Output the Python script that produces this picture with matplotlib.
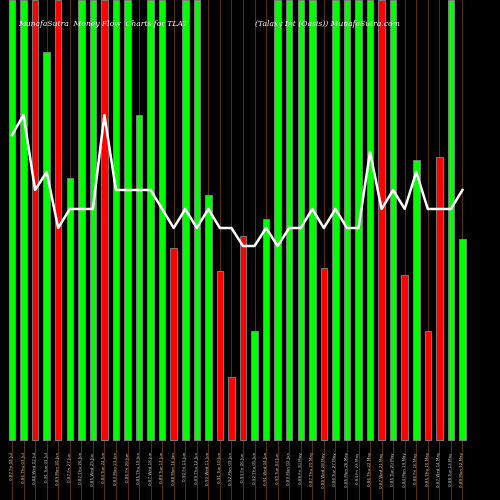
import matplotlib
matplotlib.use("Agg")
import matplotlib.pyplot as plt
import numpy as np

# bar heights (pixel-like units, 440 = top of chart), colours, and white line values
heights = [440, 440, 440, 388, 440, 262, 440, 440, 440, 440, 440, 325, 440, 440, 192, 440, 440, 245,
           169, 63, 204, 109, 221, 440, 440, 440, 440, 172, 440, 440, 440, 440, 440, 440, 165, 280,
           109, 283, 440, 201]
up = [1, 1, 0, 1, 0, 1, 1, 1, 0, 1, 1, 1, 1, 1, 0, 1, 1, 1, 0, 0, 0, 1, 1, 1, 1, 1, 1, 0, 1, 1,
      1, 1, 0, 1, 0, 1, 0, 0, 1, 1]
line = [305, 325, 250, 268, 212, 231, 231, 231, 325, 250, 250, 250, 250, 231, 212, 231, 212, 231,
        212, 212, 194, 194, 212, 194, 212, 212, 231, 212, 231, 212, 212, 288, 231, 250, 231, 268,
        231, 231, 231, 250]
labels = ["0.87 Fri 04 Jul", "0.86 Thu 03 Jul", "0.88 Wed 02 Jul", "0.91 Tue 01 Jul", "0.89 Mon 30 Jun",
          "0.87 Fri 27 Jun", "0.87 Thu 26 Jun", "0.85 Wed 25 Jun", "0.84 Tue 24 Jun", "0.83 Mon 23 Jun",
          "0.86 Fri 20 Jun", "0.85 Thu 19 Jun", "0.87 Wed 18 Jun", "0.89 Tue 17 Jun", "0.88 Mon 16 Jun",
          "0.90 Fri 13 Jun", "0.89 Thu 12 Jun", "0.90 Wed 11 Jun", "0.91 Tue 10 Jun", "0.92 Mon 09 Jun",
          "0.93 Fri 06 Jun", "0.92 Thu 05 Jun", "0.91 Wed 04 Jun", "0.90 Tue 03 Jun", "0.89 Mon 02 Jun",
          "0.88 Fri 30 May", "0.87 Thu 29 May", "0.88 Wed 28 May", "0.86 Tue 27 May", "0.85 Mon 26 May",
          "0.84 Fri 23 May", "0.86 Thu 22 May", "0.87 Wed 21 May", "0.85 Tue 20 May", "0.84 Mon 19 May",
          "0.86 Fri 16 May", "0.85 Thu 15 May", "0.87 Wed 14 May", "0.88 Tue 13 May", "0.89 Mon 12 May"]

fig = plt.figure(figsize=(5, 5), dpi=100, facecolor="black")
ax = fig.add_axes([0, 0, 1, 1], facecolor="black")
n = len(heights)
x = 12 + np.arange(n) * 11.55
cols = ["#00ff00" if u else "#ff0000" for u in up]
for xi in x:
    ax.axvline(xi, color="#6b3a00", lw=0.6, zorder=0)
ax.bar(x, heights, width=6.5, color=cols, edgecolor="#888888", linewidth=0.6, zorder=1)
ax.plot(x, line, color="white", lw=1.8, zorder=2)
for xi, lab in zip(x, labels):
    ax.text(xi, -12, lab, rotation=90, ha="center", va="top", color="#cccccc", fontsize=3)
ax.text(18, 416, "MunafaSutra  Money Flow  Charts for TLAT", color="white", fontsize=5.5,
        style="italic", family="serif", va="center")
ax.text(255, 416, "(Talaxy Int (Oasis)) MunafaSutra.com", color="white", fontsize=5.5,
        style="italic", family="serif", va="center")
ax.set_xlim(0, 500)
ax.set_ylim(-60, 440)
ax.axis("off")
fig.savefig("out.png", facecolor="black")
